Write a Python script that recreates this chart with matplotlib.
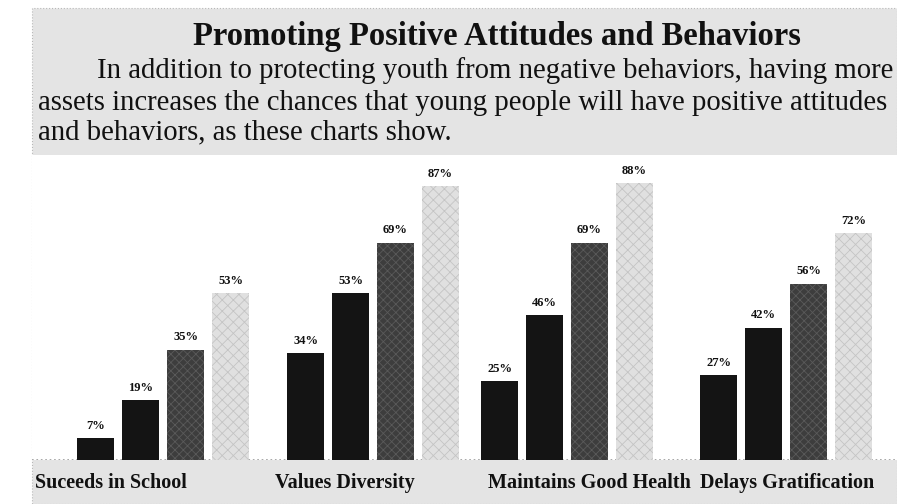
import matplotlib
matplotlib.use("Agg")
import matplotlib.pyplot as plt
from matplotlib.patches import Rectangle

categories = ["Suceeds in School", "Values Diversity", "Maintains Good Health", "Delays Gratification"]
series_0_10 = [7, 34, 25, 27]
series_11_20 = [19, 53, 46, 42]
series_21_30 = [35, 69, 69, 56]
series_31_40 = [53, 87, 88, 72]
series = [series_0_10, series_11_20, series_21_30, series_31_40]

title = "Promoting Positive Attitudes and Behaviors"
para = ["In addition to protecting youth from negative behaviors, having more",
        "assets increases the chances that young people will have positive attitudes",
        "and behaviors, as these charts show."]

W, H = 897, 504
fig = plt.figure(figsize=(W / 100, H / 100), dpi=100)
fig.patch.set_facecolor("white")

def fx(px):
    return px / W

def fy(py):
    return 1 - py / H

# gray page background (top and bottom strips), white chart panel
bg = "#e4e4e4"
fig.patches.append(Rectangle((fx(32), fy(504)), fx(897 - 32), (504 - 8) / H,
                             transform=fig.transFigure, facecolor=bg, edgecolor="#b8b8b8",
                             linewidth=0.8, linestyle=":", zorder=0))
fig.patches.append(Rectangle((fx(32), fy(460)), fx(897 - 32), (460 - 155) / H,
                             transform=fig.transFigure, facecolor="white", edgecolor="none",
                             zorder=0.5))

serif = ["Liberation Serif", "DejaVu Serif"]
fig.text(fx(497), fy(37), title, ha="center", va="center", fontsize=23.5,
         fontweight="bold", family=serif, color="#111111")
fig.text(fx(97), fy(71), para[0], ha="left", va="center", fontsize=20.7, family=serif, color="#111111")
fig.text(fx(38), fy(103), para[1], ha="left", va="center", fontsize=20.7, family=serif, color="#111111")
fig.text(fx(38), fy(132), para[2], ha="left", va="center", fontsize=20.7, family=serif, color="#111111")

# bar axes (x in pixel-like units of one bar step)
ax = fig.add_axes([fx(32), 44 / H, fx(897 - 32), 300 / H])
ax.set_zorder(2)
ax.set_facecolor("none")
step_px = 45.0
group_centers_px = [163, 373, 567, 786]
group_centers = [(c - 32) / step_px for c in group_centers_px]
ax.set_xlim(0, (897 - 32) / step_px)
ax.set_ylim(0, 300 / 3.15)
for s in ax.spines.values():
    s.set_visible(False)
ax.set_xticks([])
ax.set_yticks([])

faces = ["#141414", "#141414", "#3d3d3d", "#e0e0e0"]
hatches = [None, None, "xxxx", "xxx"]
hcolors = ["#141414", "#141414", "#5a5a5a", "#c4c4c4"]
plt.rcParams["hatch.linewidth"] = 0.6
for j, vals in enumerate(series):
    xs = [gc + (j - 1.5) for gc in group_centers]
    ax.bar(xs, vals, width=37 / step_px, color=faces[j], edgecolor=hcolors[j],
           hatch=hatches[j], linewidth=0, zorder=2)
    for x, v in zip(xs, vals):
        ax.text(x, v + 2.0, f"{v}%", ha="center", va="bottom", fontsize=9,
                fontweight="bold", family=serif, color="#111111", zorder=3)

ax.axhline(0, color="#9a9a9a", linewidth=1.2, linestyle=":", zorder=1)

label_x = [35, 275, 488, 700]
for cat, lx in zip(categories, label_x):
    fig.text(fx(lx), fy(483), cat, ha="left", va="center", fontsize=14.5,
             fontweight="bold", family=serif, color="#111111")

fig.savefig("out.png", dpi=100)
